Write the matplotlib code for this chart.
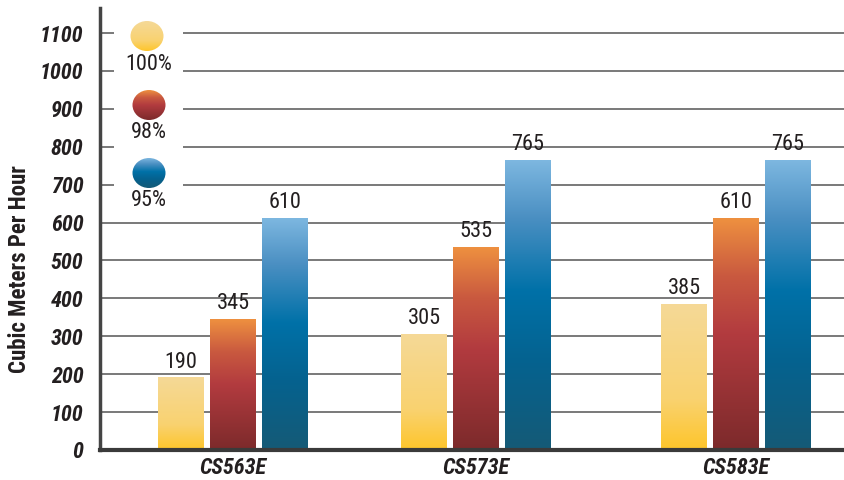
import matplotlib
matplotlib.use('Agg')
import matplotlib.pyplot as plt
import numpy as np
from matplotlib.colors import LinearSegmentedColormap
from matplotlib.patches import Ellipse

categories = ['CS563E', 'CS573E', 'CS583E']
series_names = ['100%', '98%', '95%']
vals_100 = [190, 305, 385]
vals_98 = [345, 535, 610]
vals_95 = [610, 765, 765]
yticks = [0, 100, 200, 300, 400, 500, 600, 700, 800, 900, 1000, 1100]

# gradients, bottom -> top
cm_yel = LinearSegmentedColormap.from_list('yel', [(0, '#FEC52A'), (0.35, '#F9D270'), (1, '#F5D997')])
cm_red = LinearSegmentedColormap.from_list('red', [(0, '#7C2A2B'), (0.5, '#B23B3F'), (0.75, '#C9593F'), (1, '#EE9040')])
cm_blu = LinearSegmentedColormap.from_list('blu', [(0, '#155A76'), (0.3, '#05628F'), (0.55, '#0071A8'),
                                                    (0.8, '#4A8FC2'), (1, '#7DB7E0')])
cmaps = [cm_yel, cm_red, cm_blu]

plt.rcParams['font.family'] = ['Roboto Condensed', 'Barlow Condensed', 'DejaVu Sans']

fig = plt.figure(figsize=(8.45, 4.8), dpi=100)
ax = fig.add_axes([100 / 845, 1 - 450 / 480, 745 / 845, 442 / 480])

# layout in pixel-like x units
centers = [233, 476, 736]
bw = 46
step = 52
grad = np.linspace(0, 1, 256).reshape(-1, 1)

for s, vals in enumerate([vals_100, vals_98, vals_95]):
    for g, v in enumerate(vals):
        xc = centers[g] + (s - 1) * step
        bars = ax.bar(xc, v, width=bw, color='none', edgecolor='none', zorder=2)
        ax.imshow(grad, cmap=cmaps[s], origin='lower', aspect='auto', zorder=2,
                  extent=[xc - bw / 2, xc + bw / 2, 0, v])
        ax.text(xc, v + 14, str(v), ha='center', va='bottom', fontsize=16, color='#231F20')

ax.set_xlim(100, 845)
ax.set_ylim(0, 1166)
ax.set_yticks(yticks)
ax.set_yticklabels([str(t) for t in yticks], fontsize=16, fontweight='bold', fontstyle='italic', color='#231F20')
ax.set_xticks(centers)
ax.set_xticklabels(categories, fontsize=16, fontweight='bold', fontstyle='italic', color='#231F20')
ax.tick_params(axis='y', length=0, pad=12)
ax.tick_params(axis='x', length=0, pad=5)
ax.yaxis.grid(True, color='#555555', linewidth=1.1)
ax.set_axisbelow(True)
for sp in ['top', 'right']:
    ax.spines[sp].set_visible(False)
ax.spines['left'].set_linewidth(2.5)
ax.spines['left'].set_color('#444444')
ax.spines['bottom'].set_linewidth(3)
ax.spines['bottom'].set_color('#3A3A3A')
ax.set_ylabel('Cubic Meters Per Hour', fontsize=16.5, fontweight='bold', color='#231F20')
ax.yaxis.set_label_coords(-0.093, 0.41)

# legend box
lax = fig.add_axes([114 / 845, 1 - 212 / 480, 69 / 845, 197 / 480])
lax.set_xlim(114, 183)
lax.set_ylim(212, 15)
lax.axis('off')
lax.add_patch(plt.Rectangle((114, 15), 69, 197, facecolor='white', edgecolor='none', zorder=0))
ell_centers = [(147, 36), (149, 105), (149, 173)]
for s, (ex, ey) in enumerate(ell_centers):
    e = Ellipse((ex, ey), 33, 30, facecolor='none', edgecolor='none')
    lax.add_patch(e)
    im = lax.imshow(grad, cmap=cmaps[s], origin='lower', aspect='auto', zorder=2,
                    extent=[ex - 17, ex + 17, ey + 15, ey - 15])
    im.set_clip_path(e)
    lax.text(149, ey + 28, series_names[s], ha='center', va='center', fontsize=16, color='#231F20')
lax.set_xlim(114, 183)
lax.set_ylim(212, 15)

fig.savefig('out.png', dpi=100)
